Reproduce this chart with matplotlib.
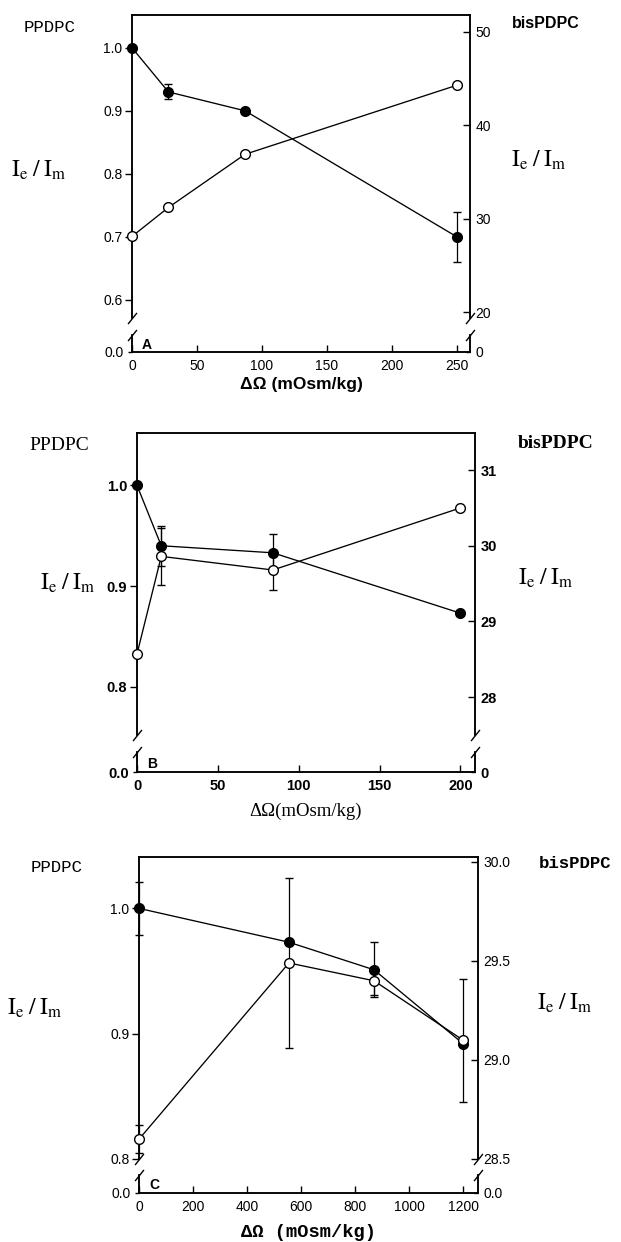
import matplotlib.pyplot as plt
from matplotlib.path import Path

# panel A
a_x = [0, 28, 87, 250]
a_ppdpc = [1.0, 0.93, 0.90, 0.70]
a_ppdpc_err = [0, 0.012, 0, 0.04]
a_bis = [28.1, 31.2, 36.9, 44.3]
a_bis_err = [0, 0, 0, 0]
a_xticks = [0, 50, 100, 150, 200, 250]
a_lticks = [0.6, 0.7, 0.8, 0.9, 1.0]
a_rticks = [20, 30, 40, 50]

# panel B
b_x = [0, 15, 84, 200]
b_ppdpc = [1.0, 0.94, 0.933, 0.873]
b_ppdpc_err = [0, 0.02, 0.019, 0]
b_bis = [28.57, 29.86, 29.68, 30.5]
b_bis_err = [0, 0.38, 0.26, 0]
b_xticks = [0, 50, 100, 150, 200]
b_lticks = [0.8, 0.9, 1.0]
b_rticks = [28, 29, 30, 31]

# panel C
c_x = [0, 555, 870, 1200]
c_ppdpc = [1.0, 0.973, 0.951, 0.892]
c_ppdpc_err = [0.021, 0, 0.022, 0]
c_bis = [28.60, 29.49, 29.40, 29.10]
c_bis_err = [0.07, 0.43, 0.07, 0.31]
c_xticks = [0, 200, 400, 600, 800, 1000, 1200]
c_lticks = [0.8, 0.9, 1.0]
c_rticks = [28.5, 29.0, 29.5, 30.0]

W, H = 621, 1242
fig = plt.figure(figsize=(W / 100, H / 100), dpi=100)
plt.rcParams['mathtext.fontset'] = 'stix'

SLASH = Path([(-0.8, -1), (0.8, 1)], [Path.MOVETO, Path.LINETO])


def rect(left, right, top, bottom):
    return [left / W, 1 - bottom / H, (right - left) / W, (bottom - top) / H]


def fxy(x, y):
    return x / W, 1 - y / H


def series(ax, x, y, err, filled):
    eb = ax.errorbar(x, y, yerr=err, fmt='-o', color='k', mfc='k' if filled else 'white',
                     mec='k', ms=7, mew=1.0, lw=0.95, elinewidth=0.9, capsize=2.6,
                     capthick=0.9, zorder=4 if filled else 3)
    for a in eb.get_children():
        a.set_clip_on(False)


def panel(box, x, pp, pp_err, bis, bis_err, xlim, ylim_l, ylim_r, xticks, lticks, rticks,
          lfmt, rfmt, rzero, letter, tickweight, ts):
    left, right, top, brk, low_top, bottom = box
    tf = 'Liberation Sans'
    ax = fig.add_axes(rect(left, right, top, brk))
    ax.set_xlim(xlim)
    ax.set_ylim(ylim_l)
    ax.set_xticks([])
    ax.spines['bottom'].set_visible(False)
    ax.set_yticks(lticks)
    ax.set_yticklabels([lfmt.format(v) for v in lticks], family=tf, weight=tickweight)
    ax.tick_params(axis='y', direction='out', length=5, width=1, labelsize=ts, pad=2)
    ax2 = ax.twinx()
    ax2.set_ylim(ylim_r)
    ax2.spines['bottom'].set_visible(False)
    ax2.set_yticks(rticks)
    ax2.set_yticklabels([rfmt.format(v) for v in rticks], family=tf, weight=tickweight)
    ax2.tick_params(axis='y', direction='in', length=5, width=1, labelsize=ts, pad=4)
    for a in (ax, ax2):
        for s in a.spines.values():
            s.set_linewidth(1.1)
    series(ax2, x, bis, bis_err, False)
    series(ax, x, pp, pp_err, True)
    ax.plot([0, 1], [0, 0], transform=ax.transAxes, marker=SLASH, ms=8, mew=1,
            ls='none', color='k', clip_on=False)

    low = fig.add_axes(rect(left, right, low_top, bottom))
    low.set_xlim(xlim)
    low.set_ylim(0, 1)
    low.spines['top'].set_visible(False)
    low.set_yticks([0])
    low.set_yticklabels(['0.0'], family=tf, weight=tickweight)
    low.set_xticks(xticks)
    low.set_xticklabels([str(v) for v in xticks], family=tf, weight=tickweight)
    low.tick_params(axis='x', direction='in', length=5, width=1, labelsize=ts, pad=5)
    low.tick_params(axis='y', direction='out', length=3, width=1, labelsize=ts, pad=3)
    low2 = low.twinx()
    low2.set_ylim(0, 1)
    low2.spines['top'].set_visible(False)
    low2.set_yticks([0])
    low2.set_yticklabels([rzero], family=tf, weight=tickweight)
    low2.tick_params(axis='y', direction='in', length=3, width=1, labelsize=ts, pad=4)
    for a in (low, low2):
        for s in a.spines.values():
            s.set_linewidth(1.1)
    low.plot([0, 1], [1, 1], transform=low.transAxes, marker=SLASH, ms=8, mew=1,
             ls='none', color='k', clip_on=False)
    low.text(0.03, 0.2, letter, transform=low.transAxes, fontsize=10, weight='bold',
             family='Liberation Sans')
    return low


ratio = r'$\mathrm{I_e\;/\;I_m}$'

# ---- A ----
low = panel((132, 470, 15, 318, 335, 352), a_x, a_ppdpc, a_ppdpc_err, a_bis, a_bis_err,
            (0, 260), (0.5714, 1.052), (19.36, 51.82), a_xticks, a_lticks, a_rticks,
            '{:.1f}', '{}', '0', 'A', 'normal', 10)
low.set_xlabel('ΔΩ (mOsm/kg)', fontsize=12.5, weight='bold', family='Liberation Sans', labelpad=3)
fig.text(*fxy(24, 27), 'PPDPC', family='Liberation Mono', fontsize=12.5, va='center')
fig.text(*fxy(512, 24), 'bisPDPC', family='Liberation Sans', weight='bold', fontsize=11.5, va='center')
fig.text(*fxy(11, 170), ratio, fontsize=17, va='center')
fig.text(*fxy(511, 160), ratio, fontsize=17, va='center')

# ---- B ----
low = panel((137, 475, 433, 735, 752, 772), b_x, b_ppdpc, b_ppdpc_err, b_bis, b_bis_err,
            (0, 209), (0.752, 1.052), (27.5, 31.49), b_xticks, b_lticks, b_rticks,
            '{:.1f}', '{}', '0', 'B', 'bold', 10.5)
low.set_xlabel('ΔΩ(mOsm/kg)', fontsize=13.5, family='Liberation Serif', labelpad=7)
fig.text(*fxy(29, 446), 'PPDPC', family='Liberation Serif', fontsize=14, va='center')
fig.text(*fxy(518, 443), 'bisPDPC', family='Liberation Serif', weight='bold', fontsize=14, va='center')
fig.text(*fxy(40, 583), ratio, fontsize=17, va='center')
fig.text(*fxy(518, 578), ratio, fontsize=17, va='center')

# ---- C ----
low = panel((139, 478, 857, 1159, 1175, 1193), c_x, c_ppdpc, c_ppdpc_err, c_bis, c_bis_err,
            (0, 1255), (0.8, 1.041), (28.5, 30.025), c_xticks, c_lticks, c_rticks,
            '{:.1f}', '{:.1f}', '0.0', 'C', 'normal', 10)
low.set_xlabel('ΔΩ (mOsm/kg)', fontsize=13.5, family='Liberation Mono', weight='bold', labelpad=7)
fig.text(*fxy(31, 867), 'PPDPC', family='Liberation Mono', fontsize=12.5, va='center')
fig.text(*fxy(539, 863), 'bisPDPC', family='Liberation Mono', weight='bold', fontsize=12.5, va='center')
fig.text(*fxy(7, 1008), ratio, fontsize=17, va='center')
fig.text(*fxy(537, 1003), ratio, fontsize=17, va='center')

fig.savefig('out.png', dpi=100, facecolor='white')
